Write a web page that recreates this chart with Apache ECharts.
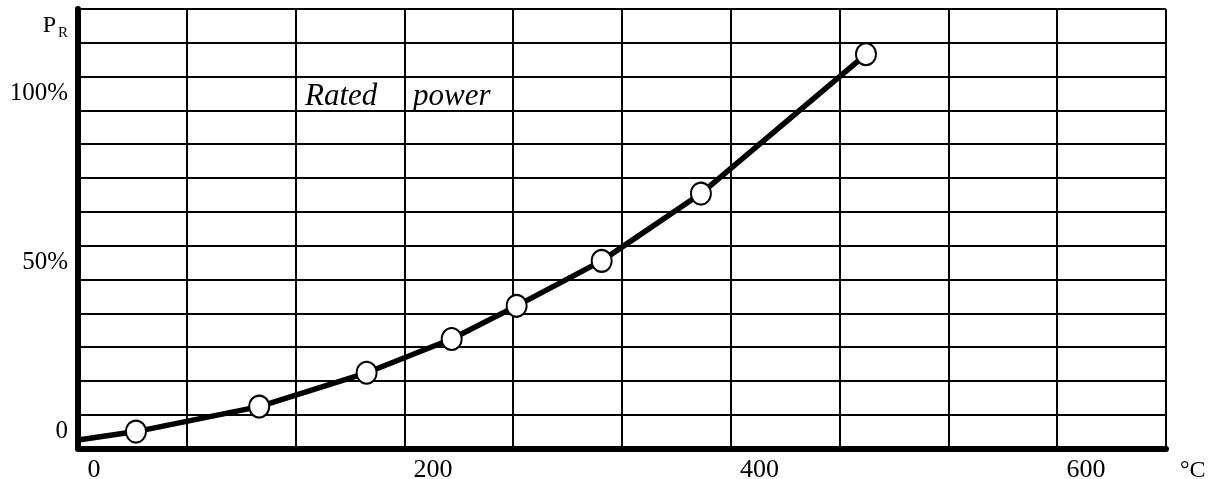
<!DOCTYPE html>
<html>
<head>
<meta charset="utf-8">
<script src="https://cdn.jsdelivr.net/npm/echarts@6.0.0/dist/echarts.min.js"></script>
<style>
  html, body { margin: 0; padding: 0; background: #fff; }
  #chart { width: 1217px; height: 479px; }
</style>
</head>
<body>
<div id="chart"></div>
<script>
// ---- data ----
const tempTicks = [0, 200, 400, 600];          // °C tick labels
const powerTicks = [0, 50, 100];               // % of rated power tick labels
const temps = [18, 93.5, 159.3, 211.4, 251.2, 303.3, 364.1, 465.2];   // °C
const power = [0, 7.4, 17.4, 27.4, 37.2, 50.5, 70.4, 111.6];          // % P_R
const curveStart = [-17.5, -2.5];              // where the drawn curve leaves the axis
const tempRange = [-17.5, 649];
const powerRange = [-5, 125];
const gridCols = 10;
const gridRows = 13;

const serif = 'Liberation Serif';
const points = temps.map((t, i) => [t, power[i]]);

const chart = echarts.init(document.getElementById('chart'), null, { renderer: 'canvas' });
chart.setOption({
  animation: false,
  backgroundColor: '#ffffff',
  grid: { left: 78, right: 51, top: 9, bottom: 30.5, containLabel: false, outerBoundsMode: 'none' },
  xAxis: [
    {
      type: 'value', min: tempRange[0], max: tempRange[1],
      name: '°C', nameLocation: 'end', nameGap: 14,
      nameTextStyle: { fontFamily: serif, fontSize: 24, color: '#000', align: 'left', verticalAlign: 'top', padding: [10, 0, 0, 0] },
      axisLine: { show: true, onZero: false, lineStyle: { color: '#000', width: 6 } },
      axisTick: { show: false },
      splitLine: { show: false },
      axisLabel: {
        customValues: tempTicks, margin: 9,
        fontFamily: serif, fontSize: 26, color: '#000',
        formatter: v => v === 0 ? '{z|0}' : String(v),
        rich: { z: { fontFamily: serif, fontSize: 26, color: '#000', padding: [0, 25, 0, 0] } }
      }
    },
    {
      type: 'value', min: 0, max: gridCols, interval: 1, position: 'top',
      axisLine: { show: false }, axisTick: { show: false }, axisLabel: { show: false },
      splitLine: { show: true, showMinLine: true, showMaxLine: true, lineStyle: { color: '#000', width: 2 } }
    }
  ],
  yAxis: [
    {
      type: 'value', min: powerRange[0], max: powerRange[1],
      axisLine: { show: true, onZero: false, lineStyle: { color: '#000', width: 6 } },
      axisTick: { show: false },
      splitLine: { show: false },
      axisLabel: {
        customValues: powerTicks, margin: 10,
        fontFamily: serif, fontSize: 25, color: '#000',
        padding: [6, 0, 0, 0],
        formatter: v => v === 0 ? '0' : v + '%'
      }
    },
    {
      type: 'value', min: 0, max: gridRows, interval: 1, position: 'right',
      axisLine: { show: false }, axisTick: { show: false }, axisLabel: { show: false },
      splitLine: { show: true, showMinLine: true, showMaxLine: true, lineStyle: { color: '#000', width: 2 } }
    }
  ],
  graphic: [
    { type: 'text', z: 10, style: { x: 56, y: 26, text: 'P', align: 'right', verticalAlign: 'middle', font: '24px "Liberation Serif"', fill: '#000' } },
    { type: 'text', z: 10, style: { x: 58, y: 33, text: 'R', align: 'left', verticalAlign: 'middle', font: '15px "Liberation Serif"', fill: '#000' } },
    { type: 'text', z: 10, style: { x: 305, y: 96.5, text: 'Rated', align: 'left', verticalAlign: 'middle', font: 'italic 31px "Liberation Serif"', fill: '#000' } },
    { type: 'text', z: 10, style: { x: 413, y: 96.5, text: 'power', align: 'left', verticalAlign: 'middle', font: 'italic 31px "Liberation Serif"', fill: '#000' } }
  ],
  series: [
    {
      type: 'line', xAxisIndex: 0, yAxisIndex: 0,
      data: [curveStart].concat(points),
      showSymbol: false, symbol: 'none', smooth: false,
      lineStyle: { color: '#000', width: 5.5 },
      z: 3, silent: true
    },
    {
      type: 'scatter', xAxisIndex: 0, yAxisIndex: 0,
      data: points,
      symbol: 'circle', symbolSize: [20, 22],
      itemStyle: { color: '#fff', borderColor: '#000', borderWidth: 2, opacity: 1 },
      z: 4, silent: true
    }
  ]
});
</script>
</body>
</html>
